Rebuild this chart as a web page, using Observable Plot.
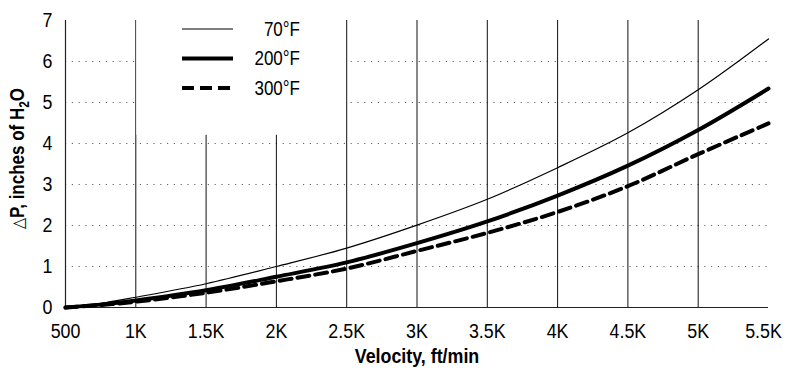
<!DOCTYPE html>
<html>
<head>
<meta charset="utf-8">
<script src="https://cdn.jsdelivr.net/npm/d3@7"></script>
<script src="https://cdn.jsdelivr.net/npm/@observablehq/plot@0.6"></script>
<style>
  html, body { margin: 0; padding: 0; background: #fff; }
  #chart svg { display: block; }
</style>
</head>
<body>
<div id="chart"></div>
<script>
// ---- data ----
const velocity = [500, 750, 1000, 1500, 2000, 2500, 3000, 3500, 4000, 4500, 5000, 5500];
const dp70  = [0, 0.10, 0.25, 0.58, 1.00, 1.45, 2.01, 2.64, 3.41, 4.26, 5.31, 6.55];
const dp200 = [0, 0.07, 0.17, 0.42, 0.75, 1.10, 1.57, 2.10, 2.73, 3.46, 4.33, 5.34];
const dp300 = [0, 0.06, 0.14, 0.36, 0.64, 0.95, 1.38, 1.82, 2.33, 2.96, 3.74, 4.49];
const seriesNames = ["70°F", "200°F", "300°F"];
const xTicks = [500, 1000, 1500, 2000, 2500, 3000, 3500, 4000, 4500, 5000, 5500];
const yTicks = [0, 1, 2, 3, 4, 5, 6, 7];
const xTitle = "Velocity, ft/min";

const seriesValues = [dp70, dp200, dp300];
const rows = seriesNames.flatMap((s, i) => velocity.map((v, j) => ({series: s, v, dp: seriesValues[i][j]})));
const fmtX = d => d < 1000 ? String(d) : (d / 1000) + "K";

const styles = {
  "70°F":  {strokeWidth: 1.2, dash: null},
  "200°F": {strokeWidth: 4, dash: null},
  "300°F": {strokeWidth: 4, dash: "12,6"}
};

const FONT = '"Liberation Sans", Arial, Helvetica, sans-serif';
const CONDENSE = 0.85;

const chart = Plot.plot({
  width: 788,
  height: 372,
  marginLeft: 65,
  marginRight: 20,
  marginTop: 20,
  marginBottom: 65,
  style: {fontFamily: FONT, fontSize: "21px", color: "#000", background: "#fff", overflow: "visible"},
  x: {domain: [500, 5500]},
  y: {domain: [0, 7]},
  marks: [
    Plot.ruleY(yTicks.filter(d => d > 0 && d < 7), {stroke: "#666", strokeWidth: 1.2, strokeDasharray: "1.2,5.6"}),
    Plot.ruleX(xTicks.filter(d => d > 500 && d < 5500), {stroke: "#111", strokeWidth: 1}),
    // legend background box (covers grid behind the legend)
    Plot.rect([0], {x1: 1000, x2: 2500, y1: 4.2, y2: 7, fill: "#fff", insetLeft: 1, insetRight: 1}),
    Plot.ruleY([0], {stroke: "#222", strokeWidth: 1.2}),
    Plot.ruleX([500], {stroke: "#222", strokeWidth: 1.2}),
    ...seriesNames.map(s => Plot.line(rows.filter(r => r.series === s), {
      x: "v", y: "dp", stroke: "#000",
      strokeWidth: styles[s].strokeWidth,
      strokeDasharray: styles[s].dash,
      curve: "catmull-rom"
    })),
    Plot.axisX({ticks: xTicks, tickSize: 0, tickPadding: 16, tickFormat: fmtX, label: null, fontSize: 21}),
    Plot.axisY({ticks: yTicks, tickSize: 0, tickPadding: 13, tickFormat: d => String(d), label: null, fontSize: 21}),
    Plot.text([xTitle], {frameAnchor: "bottom", dy: 55, fontWeight: "bold", fontSize: 21, fill: "#000"})
  ]
});

document.getElementById("chart").appendChild(chart);

const svg = d3.select(chart);
const sy = chart.scale("y");

// y-axis title with triangle and subscript
const yt = svg.append("text")
  .attr("transform", `translate(24, ${(sy.apply(0) + sy.apply(7)) / 2 - 5}) rotate(-90)`)
  .attr("text-anchor", "middle")
  .attr("font-family", FONT)
  .attr("font-size", 20)
  .attr("font-weight", "bold")
  .attr("fill", "#000");
yt.append("tspan").attr("font-weight", "normal").attr("font-family", '"DejaVu Sans", sans-serif').attr("font-size", 17).text("△");
yt.append("tspan").text("P, inches of H");
yt.append("tspan").attr("font-size", 14).attr("dy", 5).text("2");
yt.append("tspan").attr("dy", -5).text("O");

// legend
const lg = svg.append("g").attr("font-family", FONT).attr("font-size", 20);
seriesNames.forEach((s, i) => {
  const y = 29 + i * 29.5;
  lg.append("line")
    .attr("x1", 182).attr("x2", 233).attr("y1", y).attr("y2", y)
    .attr("stroke", "#000")
    .attr("stroke-width", styles[s].strokeWidth)
    .attr("stroke-dasharray", styles[s].dash);
  lg.append("text")
    .attr("x", 300).attr("y", y).attr("dy", "0.35em")
    .attr("text-anchor", "end").attr("fill", "#000")
    .text(s);
});

// last x tick label sits slightly inward, as in the reference
const xLabels = svg.selectAll('g[aria-label="x-axis tick label"] text').nodes();
if (xLabels.length) {
  const last = d3.select(xLabels[xLabels.length - 1]);
  last.attr("transform", (last.attr("transform") || "") + " translate(-5,0)");
}

// condense all text horizontally (reference uses a condensed face)
svg.selectAll("text").each(function() {
  const t = d3.select(this);
  const x = parseFloat(t.attr("x")) || 0;
  const tr = t.attr("transform") || "";
  t.attr("transform", `${tr} translate(${x},0) scale(${CONDENSE},1) translate(${-x},0)`);
});
</script>
</body>
</html>
